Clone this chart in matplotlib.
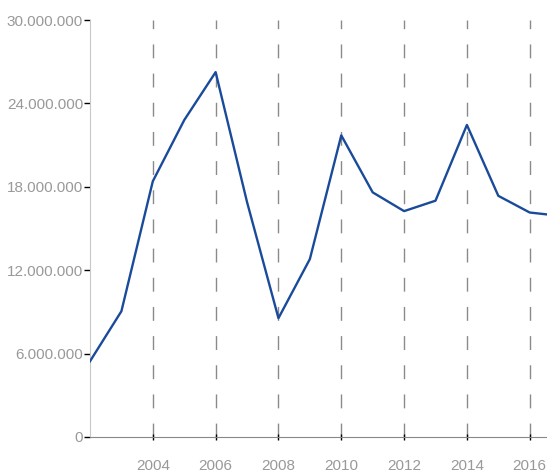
import matplotlib.pyplot as plt
from matplotlib.ticker import FuncFormatter

# values
years = [2002, 2003, 2004, 2005, 2006, 2007, 2008, 2009, 2010,
         2011, 2012, 2013, 2014, 2015, 2016, 2017]
values = [5.45e6, 9.05e6, 18.4e6, 22.8e6, 26.25e6, 16.9e6, 8.55e6, 12.8e6,
          21.7e6, 17.6e6, 16.25e6, 17.0e6, 22.45e6, 17.35e6, 16.15e6, 15.9e6]
y_ticks = [0, 6e6, 12e6, 18e6, 24e6, 30e6]
x_ticks = [2004, 2006, 2008, 2010, 2012, 2014, 2016]

plt.rcParams['font.family'] = ['Liberation Sans', 'DejaVu Sans']

fig = plt.figure(figsize=(5.47, 4.72), dpi=100)
ax = fig.add_axes([90 / 547, 35 / 472, 1 - 90 / 547, 417 / 472])

for x in x_ticks:
    ax.axvline(x, color='#8a8a8a', lw=1, dashes=(10, 11), zorder=1)

ax.plot(years, values, color='#1a4b9b', lw=1.7, zorder=3, clip_on=True)

ax.set_xlim(2002, 2016.55)
ax.set_ylim(0, 30e6)
ax.set_xticks(x_ticks)
ax.set_yticks(y_ticks)


def dots(v, pos):
    return f"{int(v):,}".replace(',', '.')


ax.yaxis.set_major_formatter(FuncFormatter(dots))

for s in ['top', 'right']:
    ax.spines[s].set_visible(False)
ax.spines['left'].set_color('#c8c8c8')
ax.spines['bottom'].set_color('#888888')

ax.tick_params(axis='y', direction='out', length=4, width=1, color='black',
               labelcolor='#999999', labelsize=11, pad=1)
ax.tick_params(axis='x', direction='inout', length=5, width=1, color='black',
               labelcolor='#999999', labelsize=11, pad=13)

fig.savefig('out.png', dpi=100)
